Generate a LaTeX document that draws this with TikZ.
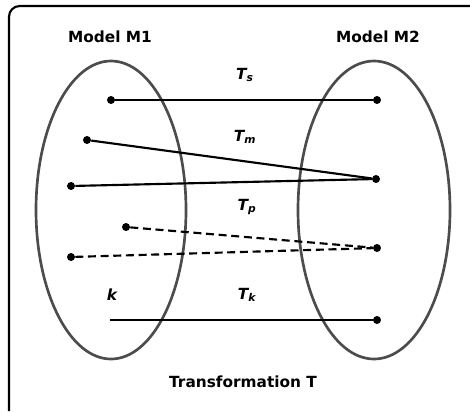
\documentclass[tikz,border=0pt]{standalone}
\usepackage{fontspec}
\setmainfont{DejaVu Sans}
\begin{document}
\begin{tikzpicture}[
  x=0.75pt, y=-0.75pt,
  dot/.style={circle,fill,inner sep=0pt,minimum size=6pt},
  title/.style={font=\fontsize{11.5}{13}\selectfont\bfseries},
  lbl/.style={font=\fontsize{11.5}{13}\selectfont\bfseries\itshape},
  link/.style={line width=1.6pt},
  dlink/.style={link,dash pattern=on 6pt off 3.5pt},
  model/.style={line width=2pt,draw=black!70}
]
  \useasboundingbox (0,0) rectangle (470,411);
  \draw[line width=1.6pt,rounded corners=8pt] (9,411) -- (9,6) -- (470,6);

  % the two models
  \draw[model] (111,210) ellipse [x radius=75,y radius=149];
  \draw[model] (374,210) ellipse [x radius=76,y radius=149];
  \node[title] (m1) at (110,37) {Model M1};
  \node[title] (m2) at (378,37) {Model M2};

  % elements
  \node[dot] (s1) at (111,100) {};
  \node[dot] (s2) at (377,100) {};
  \node[dot] (a1) at (87,140)  {};
  \node[dot] (a2) at (71,186)  {};
  \node[dot] (b)  at (376,179) {};
  \node[dot] (p1) at (126,227) {};
  \node[dot] (p2) at (71,257)  {};
  \node[dot] (q)  at (377,248) {};
  \coordinate (k1) at (110,320);
  \node[dot] (k2) at (377,320) {};

  \draw[link] (s1)--(s2);
  \draw[link] (a1)--(b);
  \draw[link] (a2)--(b);
  \draw[dlink] (p1)--(q);
  \draw[dlink] (p2)--(q);
  \draw[link,line width=1.2pt] (k1)--(k2);

  % labels
  \node[lbl] (ts) at (245,75)  {T\textsubscript{s}};
  \node[lbl] (tm) at (245,137) {T\textsubscript{m}};
  \node[lbl] (tp) at (247,207) {T\textsubscript{p}};
  \node[lbl] (tk) at (247,295) {T\textsubscript{k}};
  \node[lbl] (k)  at (112,295) {k};
  \node[title] (tt) at (243,382) {Transformation T};
\end{tikzpicture}
\end{document}
